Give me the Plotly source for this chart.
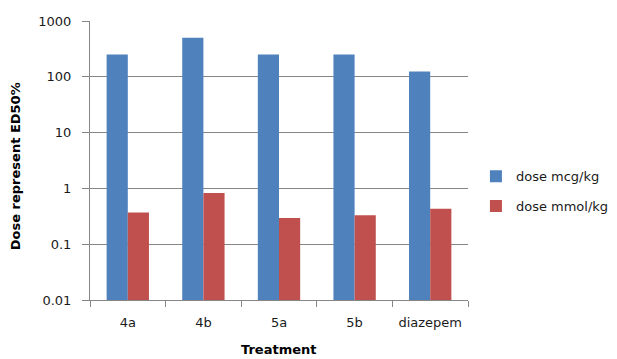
import plotly.graph_objects as go

categories = ["4a", "4b", "5a", "5b", "diazepem"]
dose_mcg = [250, 500, 250, 250, 125]
dose_mmol = [0.37, 0.83, 0.295, 0.33, 0.43]
y_tickvals = [0.01, 0.1, 1, 10, 100, 1000]
y_ticktext = ["0.01", "0.1", "1", "10", "100", "1000"]

font_family = "DejaVu Sans"
text_color = "#1a1a1a"
axis_color = "#868686"

fig = go.Figure()
fig.add_trace(go.Bar(x=categories, y=dose_mcg, name="dose mcg/kg",
                     marker=dict(color="#4F81BD", line=dict(width=0)),
                     legendgroup="a"))
fig.add_trace(go.Bar(x=categories, y=dose_mmol, name="dose mmol/kg",
                     marker=dict(color="#C0504D", line=dict(width=0)),
                     legendgroup="b"))

fig.update_layout(
    width=609, height=351,
    margin=dict(l=82, r=149, t=13, b=59, autoexpand=False),
    paper_bgcolor="white", plot_bgcolor="white",
    barmode="group", bargap=0.44, bargroupgap=0,
    font=dict(family=font_family, size=13, color=text_color),
    showlegend=True,
    legend=dict(x=1.021, y=0.39, xanchor="left", yanchor="middle",
                font=dict(size=13, color=text_color),
                tracegroupgap=10, traceorder="grouped"),
    annotations=[
        dict(text="<b>Treatment</b>", xref="paper", yref="paper",
             x=0.5, y=-0.176, xanchor="center", yanchor="middle",
             showarrow=False, font=dict(size=13, color="#000000")),
        dict(text="<b>Dose represent ED50%</b>", xref="paper", yref="paper",
             x=-0.198, y=0.48, xanchor="center", yanchor="middle", textangle=-90,
             showarrow=False, font=dict(size=13, color="#000000")),
    ],
)
fig.update_xaxes(
    type="category", automargin=False,
    showline=True, linecolor=axis_color, linewidth=1,
    ticks="outside", tickson="boundaries", ticklen=6, tickcolor=axis_color,
    showgrid=False,
    tickfont=dict(size=13, color=text_color),
    ticklabelstandoff=10,
)
fig.update_yaxes(
    type="log", range=[-2, 3], automargin=False,
    tickvals=y_tickvals, ticktext=y_ticktext,
    showline=True, linecolor=axis_color, linewidth=1,
    ticks="outside", ticklen=7, tickcolor=axis_color,
    showgrid=True, gridcolor=axis_color, gridwidth=1,
    tickfont=dict(size=13, color=text_color),
    ticklabelstandoff=8,
    zeroline=False,
)

fig.write_html("out.html")
